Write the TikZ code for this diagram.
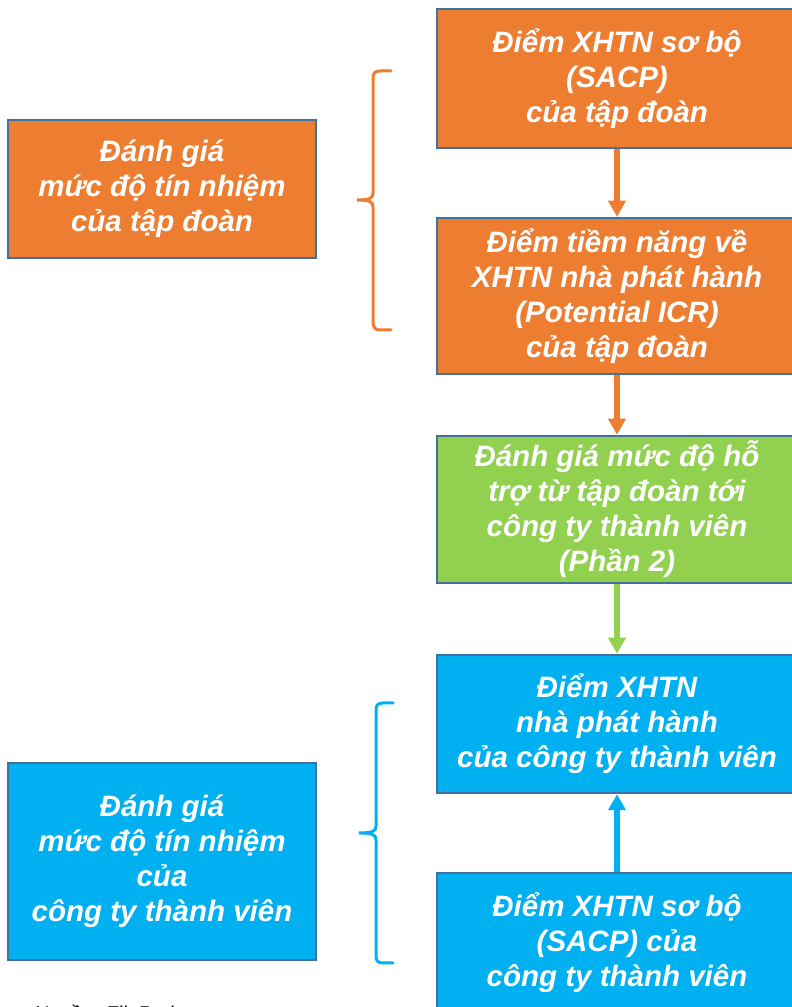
\documentclass[tikz,border=0pt]{standalone}
\usepackage{fontspec}
\setmainfont{Liberation Sans}
\usetikzlibrary{arrows.meta}
\definecolor{cOrange}{HTML}{ED7D31}
\definecolor{cGreen}{HTML}{92D050}
\definecolor{cBlue}{HTML}{00B0F0}
\definecolor{cEdge}{HTML}{41719C}

\begin{document}
\begin{tikzpicture}[x=1pt, y=1pt, node distance=215pt,
  box/.style={shape=rectangle, draw=cEdge, line width=2.5pt, text=white, align=center, inner sep=0pt, font=\fontsize{29.5}{35}\selectfont\bfseries\itshape},
  rbox/.style={box, minimum width=360pt},
  lbox/.style={box, minimum width=308pt},
  flow/.style={line width=6pt, -{Triangle[width=17pt,length=16pt]}},
  bracket/.style={line width=3pt, line cap=round}]
\path[use as bounding box, clip] (0,0) rectangle (792,1007);

\node [rbox, fill=cOrange, minimum height=139pt] (R1) at (617,928.5) {Điểm XHTN sơ bộ\\(SACP)\\của tập đoàn};
\node [rbox, fill=cOrange, minimum height=156pt, below of=R1, node distance=217.5pt] (R2) {Điểm tiềm năng về\\XHTN nhà phát hành\\(Potential ICR)\\của tập đoàn};
\node [rbox, fill=cGreen, minimum height=147pt, below of=R2, node distance=213.5pt] (R3) {Đánh giá mức độ hỗ\\trợ từ tập đoàn tới\\công ty thành viên\\(Phần 2)};
\node [rbox, fill=cBlue, minimum height=138pt, below of=R3, node distance=214.5pt] (R4) {Điểm XHTN\\nhà phát hành\\của công ty thành viên};
\node [rbox, fill=cBlue, minimum height=140pt, below of=R4, node distance=219pt] (R5) {Điểm XHTN sơ bộ\\(SACP) của\\công ty thành viên};

\node [lbox, fill=cOrange, minimum height=138pt] (L1) at (162,818) {Đánh giá\\mức độ tín nhiệm\\của tập đoàn};
\node [lbox, fill=cBlue, minimum height=197pt] (L2) at (162,145.5) {Đánh giá\\mức độ tín nhiệm\\của\\công ty thành viên};

\node [anchor=base west, font=\fontsize{20}{24}\selectfont\itshape] (src) at (30,-13) {Nguồn: FiinRatings};

\draw [flow, cOrange] (R1) -- (R2);
\draw [flow, cOrange] (R2) -- (R3);
\draw [flow, cGreen] (R3) -- (R4);
\draw [flow, cBlue] (R5) -- (R4);

\draw [bracket, cOrange] (391,936) -- (380,936) .. controls (375,936) and (373,934) .. (373,929) -- (373,814) .. controls (373,809) and (370,807) .. (357,807) .. controls (370,807) and (373,805) .. (373,800) -- (373,685) .. controls (373,680) and (375,677) .. (380,677) -- (391,677);
\draw [bracket, cBlue] (393,304) -- (383,304) .. controls (378,304) and (376,302) .. (376,297) -- (376,181) .. controls (376,176) and (373,174) .. (359,174) .. controls (373,174) and (376,172) .. (376,167) -- (376,51) .. controls (376,46) and (378,44) .. (383,44) -- (393,44);
\end{tikzpicture}
\end{document}
